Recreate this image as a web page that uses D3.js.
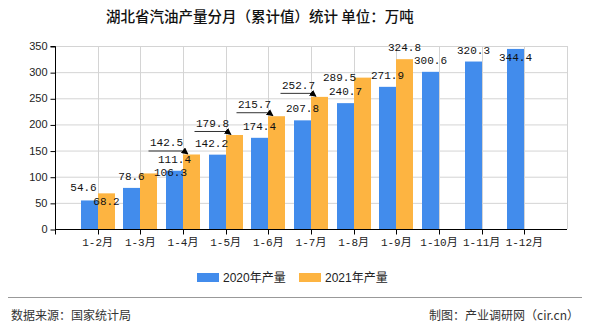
<!DOCTYPE html>
<html><head><meta charset="utf-8">
<script src="https://cdn.jsdelivr.net/npm/d3@7"></script>
<style>
html,body{margin:0;padding:0;background:#fff;}
svg{display:block;}
</style></head>
<body>
<svg id="c" width="590" height="330"></svg>
<script>
const categories = ["1-2月","1-3月","1-4月","1-5月","1-6月","1-7月","1-8月","1-9月","1-10月","1-11月","1-12月"];
const values2020 = [54.6, 78.6, 111.4, 142.2, 174.4, 207.8, 240.7, 271.9, 300.6, 320.3, 344.4];
const values2021 = [68.2, 106.3, 142.5, 179.8, 215.7, 252.7, 289.5, 324.8];
const seriesNames = ["2020年产量", "2021年产量"];
const yTicks = [0, 50, 100, 150, 200, 250, 300, 350];
const titleText = "湖北省汽油产量分月（累计值）统计 单位：万吨";
const sourceText = "数据来源：国家统计局";
const creditText = "制图：产业调研网（cir.cn）";

const colors = ["#428cec", "#fdb441"];
const svg = d3.select("#c");
const L = 55, R = 567, T = 46, B = 229;
const x = d3.scalePoint().domain(categories).range([L, R]).padding(1);
const y = d3.scaleLinear().domain([0, 350]).range([B, T]);
const bw = 17;

// title
svg.append("text").attr("x", 260).attr("y", 22).attr("text-anchor", "middle")
  .style("font-family", "'Noto Sans CJK SC', sans-serif").style("font-size", "14.5px")
  .style("font-weight", "500").attr("fill", "#111").text(titleText);

// grid
const g = svg.append("g");
g.selectAll("line.h").data(yTicks.filter(d => d > 0)).join("line")
  .attr("x1", L).attr("x2", R).attr("y1", d => y(d) + 0.5).attr("y2", d => y(d) + 0.5)
  .attr("stroke", "#d4d4d4");
g.selectAll("line.v").data(categories.map(c => x(c)).concat([R])).join("line")
  .attr("x1", d => Math.round(d) + 0.5).attr("x2", d => Math.round(d) + 0.5)
  .attr("y1", T).attr("y2", B).attr("stroke", "#d4d4d4");

// bars
const bars = svg.append("g");
bars.selectAll("rect.a").data(values2020).join("rect")
  .attr("x", (d, i) => Math.round(x(categories[i])) - bw).attr("width", bw)
  .attr("y", d => y(d)).attr("height", d => B - y(d)).attr("fill", colors[0]);
bars.selectAll("rect.b").data(values2021).join("rect")
  .attr("x", (d, i) => Math.round(x(categories[i]))).attr("width", bw)
  .attr("y", d => y(d)).attr("height", d => B - y(d)).attr("fill", colors[1]);

// axes
const yAxis = d3.axisLeft(y).tickValues(yTicks).tickSize(5).tickPadding(3);
const ya = svg.append("g").attr("transform", `translate(${L + 0.5},0)`).call(yAxis);
ya.select(".domain").attr("stroke", "#000").attr("d", `M-5,${T + 0.5}H0V${B + 0.5}`);
ya.selectAll(".tick line").attr("stroke", "#000").attr("transform", "translate(0,0.5)");
ya.selectAll("text").style("font-family", "'Liberation Sans', Arial, sans-serif")
  .style("font-size", "11px").attr("fill", "#222");

const xa = svg.append("g").attr("transform", `translate(0,${B + 0.5})`);
xa.append("line").attr("x1", L).attr("x2", R).attr("stroke", "#000");
xa.selectAll("line.t").data([L].concat(categories.map(c => Math.round(x(c))))).join("line")
  .attr("x1", d => d + 0.5).attr("x2", d => d + 0.5).attr("y1", 0).attr("y2", 5).attr("stroke", "#000");
xa.selectAll("text").data(categories).join("text")
  .attr("x", d => x(d)).attr("y", 16).attr("text-anchor", "middle")
  .style("font-family", "'Liberation Mono', 'Noto Sans CJK SC', monospace").style("font-size", "11px")
  .attr("fill", "#222").text(d => d);

// data labels with layout adjustments (collision avoidance as in the original)
const labelAdjust = {
  "0-0": {dx: -6, dy: -1},
  "0-3": {dx: -6, dy: 0},
  "0-10": {dx: 0, dy: 20},
  "1-0": {dx: 0, dy: 20},
  "1-1": {dx: 22, dy: 11},
  "1-2": {dx: -25, dy: 0, leader: true},
  "1-3": {dx: -22, dy: 0, leader: true},
  "1-4": {dx: -22, dy: 0, leader: true},
  "1-5": {dx: -21, dy: 0, leader: true},
  "1-6": {dx: -23, dy: 11}
};
svg.append("defs").append("marker").attr("id", "arr").attr("viewBox", "0 0 10 10")
  .attr("refX", 9).attr("refY", 5).attr("markerWidth", 7).attr("markerHeight", 7)
  .attr("orient", "auto").append("path").attr("d", "M0,0L10,5L0,10z").attr("fill", "#000");

const labels = svg.append("g");
[values2020, values2021].forEach((vals, s) => {
  vals.forEach((v, i) => {
    const cx = Math.round(x(categories[i])) + (s === 0 ? -bw / 2 : bw / 2);
    const top = y(v);
    const adj = labelAdjust[s + "-" + i] || {dx: 0, dy: 0};
    const lx = cx + adj.dx, ly = top - 12 + adj.dy;
    labels.append("text").attr("x", lx).attr("y", ly + 4).attr("text-anchor", "middle")
      .style("font-family", "'Liberation Mono', monospace").style("font-size", "11px")
      .attr("fill", "#111").text(v.toFixed(1));
    if (adj.leader) {
      const barLeft = Math.round(x(categories[i]));
      labels.append("path")
        .attr("d", `M${lx - 18},${top - 3.5}H${barLeft + 1}L${barLeft + 5},${top - 0.5}`)
        .attr("fill", "none").attr("stroke", "#333").attr("stroke-width", 1)
        .attr("marker-end", "url(#arr)");
    }
  });
});

// legend
const lg = svg.append("g");
seriesNames.forEach((n, i) => {
  const lx0 = 197 + i * 102;
  lg.append("rect").attr("x", lx0).attr("y", 273).attr("width", 22).attr("height", 9).attr("fill", colors[i]);
  lg.append("text").attr("x", lx0 + 26).attr("y", 282)
    .style("font-family", "'Liberation Sans', 'Noto Sans CJK SC', sans-serif").style("font-size", "12px")
    .attr("fill", "#222").text(n);
});

// footer
svg.append("line").attr("x1", 8).attr("x2", 582).attr("y1", 297.5).attr("y2", 297.5).attr("stroke", "#999");
svg.append("text").attr("x", 11).attr("y", 320)
  .style("font-family", "'Noto Sans CJK SC', sans-serif").style("font-size", "12px").attr("fill", "#333").text(sourceText);
svg.append("text").attr("x", 579).attr("y", 320).attr("text-anchor", "end")
  .style("font-family", "'Noto Sans CJK SC', sans-serif").style("font-size", "12px").attr("fill", "#333").text(creditText);
</script>
</body></html>
